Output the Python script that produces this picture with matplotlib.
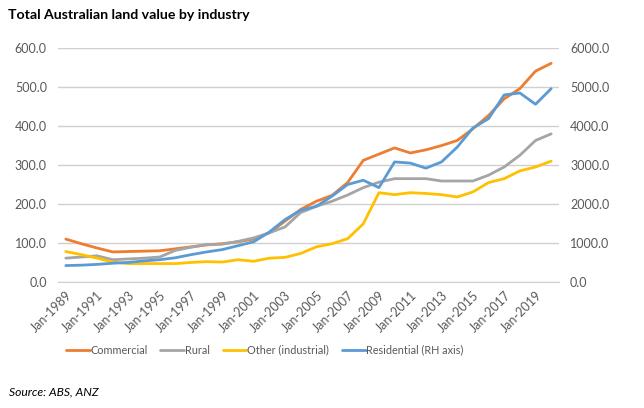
import matplotlib
matplotlib.use("Agg")
import matplotlib.pyplot as plt
from matplotlib.ticker import FuncFormatter, MultipleLocator

years = list(range(1989, 2021))
commercial = [110, 98, 87, 77, 78, 79, 80, 85, 90, 95, 98, 103, 110, 126, 156, 186,
              207, 222, 255, 312, 328, 344, 331, 339, 350, 363, 393, 427, 470, 496, 541, 561]
rural = [61, 64, 67, 57, 59, 61, 64, 81, 89, 96, 97, 104, 113, 126, 141, 178,
         194, 207, 223, 242, 256, 265, 265, 265, 259, 259, 259, 274, 295, 325, 363, 380]
other = [78, 70, 61, 51, 47, 47, 47, 47, 50, 52, 51, 57, 53, 61, 63, 73,
         90, 98, 111, 149, 229, 224, 229, 227, 224, 218, 231, 255, 265, 285, 295, 310]
residential = [420, 430, 450, 480, 500, 540, 570, 620, 700, 770, 830, 930, 1030, 1280, 1600, 1840,
               1940, 2200, 2500, 2610, 2420, 3080, 3050, 2920, 3080, 3460, 3950, 4190, 4800, 4850, 4560, 4960]
tick_years = list(range(1989, 2021, 2))
tick_labels = [f"Jan-{y}" for y in tick_years]

title = "Total Australian land value by industry"
source = "Source: ABS, ANZ"
labels = ["Commercial", "Rural", "Other (industrial)", "Residential (RH axis)"]
colors = ["#ED7D31", "#A5A5A5", "#FFC000", "#5B9BD5"]

plt.rcParams['font.family'] = ['Lato', 'DejaVu Sans']
txt = "#595959"

fig = plt.figure(figsize=(6.44, 4.08), dpi=100)
ax = fig.add_axes([0.090, 0.309, 0.778, 0.573])
ax2 = ax.twinx()

lw = 2.0
l1, = ax.plot(years, commercial, color=colors[0], lw=lw, label=labels[0], solid_capstyle='round')
l2, = ax.plot(years, rural, color=colors[1], lw=lw, label=labels[1], solid_capstyle='round')
l3, = ax.plot(years, other, color=colors[2], lw=lw, label=labels[2], solid_capstyle='round')
l4, = ax2.plot(years, residential, color=colors[3], lw=lw, label=labels[3], solid_capstyle='round')

ax.set_xlim(1988.5, 2020.5)
ax.set_ylim(0, 600)
ax2.set_ylim(0, 6000)
ax.yaxis.set_major_locator(MultipleLocator(100))
ax2.yaxis.set_major_locator(MultipleLocator(1000))
ax.yaxis.set_major_formatter(FuncFormatter(lambda v, p: f"{v:.1f}"))
ax2.yaxis.set_major_formatter(FuncFormatter(lambda v, p: f"{v:.1f}"))
ax.grid(axis='y', color='#D0D0D0', lw=1.0)
ax.set_axisbelow(True)

ax.set_xticks(tick_years)
ax.set_xticklabels(tick_labels, rotation=45, ha='right', rotation_mode='anchor')
for a in (ax, ax2):
    for s in a.spines.values():
        s.set_visible(False)
    a.tick_params(length=0, labelsize=9, labelcolor=txt)
ax.tick_params(axis='y', pad=8)
ax2.tick_params(axis='y', pad=8)
ax.tick_params(axis='x', pad=5)
ax.spines['bottom'].set_visible(True)
ax.spines['bottom'].set_color('#D0D0D0')

fig.text(0.012, 0.963, title, fontsize=10.2, fontweight='bold', color='#000000', va='center', ha='left')
fig.text(0.014, 0.040, source, fontsize=8.7, style='italic', color='#000000', va='center', ha='left')

fig.legend([l1, l2, l3, l4], labels, loc='center', bbox_to_anchor=(0.411, 0.142), ncol=4,
           frameon=False, fontsize=7.8, handlelength=2.2, handletextpad=0.05, columnspacing=1.2,
           labelcolor=txt)

fig.savefig("out.png", dpi=100)
